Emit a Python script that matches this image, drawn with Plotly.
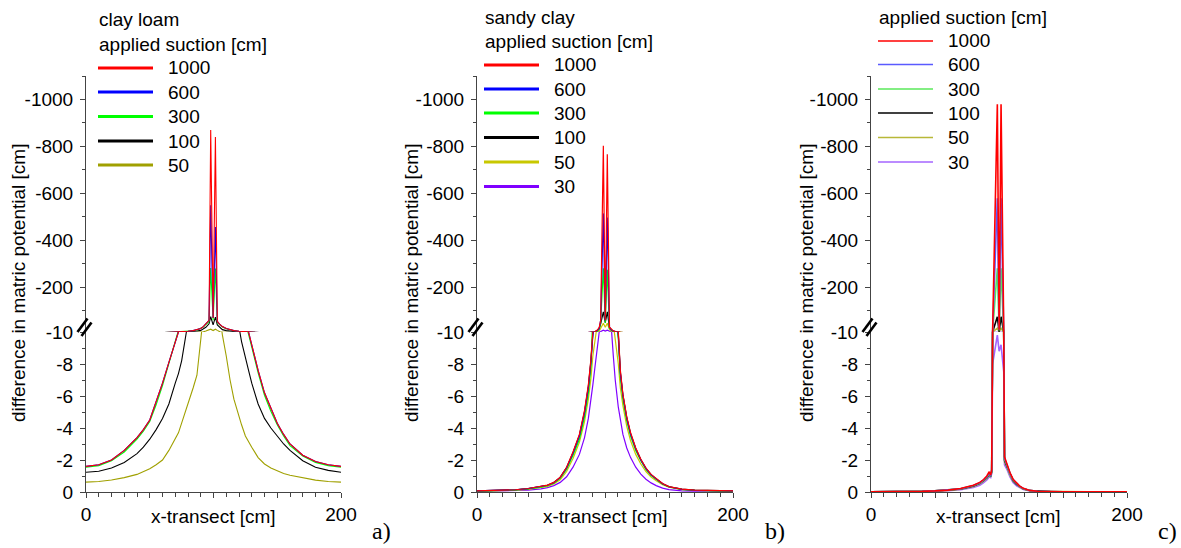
import plotly.graph_objects as go

W, H = 1181, 548


def fx(px):
    return px / W


def fy(py):
    return 1 - py / H


# ---------------- data ----------------
# panel a: clay loam
A_X = [0, 10, 20, 30, 40, 45, 50, 55, 60, 65, 70, 72.5, 75, 78, 80, 84, 87, 90, 92, 94,
       96.5, 97.8, 99.7, 101.5, 103, 105, 107, 110, 113, 116, 120, 122, 125, 127.5, 130,
       135, 140, 145, 150, 155, 160, 170, 180, 190, 200]
A_1000 = [-1.6, -1.7, -2.0, -2.6, -3.4, -3.9, -4.5, -5.6, -6.8, -8.1, -9.4, -10.0, -11, -12.5,
          -13.5, -16, -19, -25, -33, -45, -60, -870, -70, -840, -55, -42, -33, -25, -19, -16,
          -13.5, -12.5, -11, -10.0, -9.2, -7.6, -6.2, -5.2, -4.3, -3.6, -3.0, -2.3, -1.9, -1.7, -1.6]
A_600 = [-1.6, -1.7, -2.0, -2.6, -3.4, -3.9, -4.5, -5.6, -6.8, -8.1, -9.4, -10.0, -11, -12.5,
         -13.5, -16, -19, -25, -33, -45, -60, -550, -70, -457, -55, -42, -33, -25, -19, -16,
         -13.5, -12.5, -11, -10.0, -9.2, -7.6, -6.2, -5.2, -4.3, -3.6, -3.0, -2.3, -1.9, -1.7, -1.6]
A_300 = [-1.55, -1.65, -1.95, -2.5, -3.3, -3.8, -4.4, -5.45, -6.65, -7.95, -9.25, -9.9, -10.8,
         -12.2, -13.2, -15.5, -18.5, -24, -31, -42, -55, -282, -60, -280, -50, -40, -31, -24,
         -18.5, -15.5, -13, -12, -10.6, -9.85, -9.05, -7.45, -6.05, -5.05, -4.2, -3.5, -2.9,
         -2.25, -1.85, -1.65, -1.55]
A_100 = [-1.23, -1.3, -1.5, -1.85, -2.4, -2.8, -3.3, -3.9, -4.6, -5.5, -6.8, -7.4, -8.2, -9.5,
         -10.5, -12, -14, -17, -22, -30, -45, -75, -40, -73, -40, -28, -20, -16, -13.5, -12,
         -10.3, -9.4, -8.3, -7.6, -6.8, -5.5, -4.6, -4.0, -3.5, -3.0, -2.6, -1.95, -1.55, -1.35, -1.23]
A_50 = [-0.62, -0.66, -0.75, -0.9, -1.1, -1.25, -1.45, -1.7, -2.0, -2.6, -3.3, -3.7, -4.3, -5.0,
        -5.5, -6.5, -7.3, -9.3, -11, -14, -18, -22, -16, -22, -17, -11, -9.8, -8.5, -7.0, -5.8,
        -4.7, -4.2, -3.5, -3.1, -2.8, -2.15, -1.75, -1.5, -1.3, -1.15, -1.05, -0.88, -0.74, -0.66, -0.62]

# panel b: sandy clay
B_X = [0, 10, 20, 30, 40, 50, 55, 60, 65, 70, 75, 80, 84, 87, 89, 90.5, 92, 94, 95.5, 96.6,
       98.7, 100.2, 101.8, 103.5, 105, 106.5, 108, 110.4, 112, 114, 117, 120, 124, 128, 132,
       136, 140, 145, 150, 160, 170, 180, 190, 200]
B_1000 = [-0.07, -0.08, -0.1, -0.14, -0.22, -0.33, -0.43, -0.6, -0.92, -1.55, -2.5, -3.6, -5.1,
          -6.7, -8.3, -10, -11, -18, -30, -60, -803, -60, -767, -30, -20, -15, -12, -10, -7.6,
          -6.1, -4.7, -3.7, -2.75, -2.05, -1.5, -1.1, -0.82, -0.53, -0.34, -0.18, -0.12, -0.09,
          -0.08, -0.07]
B_600 = [-0.07, -0.08, -0.1, -0.14, -0.21, -0.32, -0.42, -0.58, -0.9, -1.5, -2.42, -3.5, -4.95,
         -6.5, -8.1, -9.8, -10.6, -16, -25, -60, -515, -60, -498, -30, -19, -14, -11.5, -9.8,
         -7.4, -6.0, -4.6, -3.6, -2.7, -2.0, -1.46, -1.07, -0.8, -0.52, -0.33, -0.17, -0.11,
         -0.09, -0.08, -0.07]
B_300 = [-0.06, -0.07, -0.09, -0.13, -0.2, -0.3, -0.4, -0.55, -0.85, -1.42, -2.3, -3.3, -4.7,
         -6.2, -7.8, -9.4, -10.3, -14, -22, -50, -281, -50, -275, -25, -17, -13, -11, -9.6,
         -7.2, -5.8, -4.45, -3.5, -2.6, -1.95, -1.42, -1.04, -0.78, -0.5, -0.32, -0.16, -0.1,
         -0.08, -0.07, -0.06]
B_100 = [-0.07, -0.08, -0.1, -0.14, -0.21, -0.32, -0.42, -0.59, -0.91, -1.52, -2.46, -3.55, -5.0,
         -6.6, -8.2, -9.9, -10.7, -15, -25, -45, -96, -50, -96, -30, -18, -13.5, -11, -9.9,
         -7.5, -6.05, -4.65, -3.65, -2.72, -2.02, -1.48, -1.08, -0.81, -0.52, -0.33, -0.18,
         -0.12, -0.09, -0.08, -0.07]
B_50 = [-0.05, -0.06, -0.08, -0.11, -0.17, -0.26, -0.35, -0.5, -0.76, -1.28, -2.1, -3.1, -4.4,
        -5.8, -7.1, -8.5, -9.4, -10.5, -14, -25, -47, -30, -47, -20, -13, -10.5, -9.6, -8.0,
        -6.5, -5.4, -4.1, -3.2, -2.35, -1.75, -1.28, -0.94, -0.7, -0.46, -0.3, -0.15, -0.1,
        -0.07, -0.06, -0.05]
B_30 = [-0.04, -0.05, -0.06, -0.08, -0.12, -0.2, -0.27, -0.4, -0.6, -0.95, -1.55, -2.35, -3.4,
        -4.6, -5.7, -6.7, -7.7, -9.0, -10.0, -12, -18, -14, -18, -13, -10.2, -8.5, -7.0, -5.3,
        -4.4, -3.6, -2.75, -2.15, -1.55, -1.12, -0.8, -0.57, -0.4, -0.24, -0.15, -0.07, -0.05,
        -0.04, -0.04, -0.04]

# panel c
C_X = [0, 20, 40, 50, 60, 70, 80, 85, 88, 90.5, 92.4, 93.5, 94.3, 95, 98.7, 100.1, 101.6,
       103.7, 104.3, 106, 108.6, 111, 113.8, 116, 119, 124, 130, 140, 150, 170, 200]
C_1000 = [-0.02, -0.02, -0.04, -0.07, -0.12, -0.22, -0.42, -0.6, -0.78, -1.0, -1.27, -1.05,
          -1.4, -10, -980, -20, -980, -10, -2.2, -1.8, -1.2, -0.8, -0.55, -0.38, -0.23, -0.1,
          -0.05, -0.03, -0.02, -0.02, -0.02]
C_600 = [-0.02, -0.02, -0.04, -0.07, -0.12, -0.2, -0.4, -0.58, -0.76, -0.95, -1.2, -1.0, -1.35,
         -10, -579, -20, -579, -10, -2.1, -1.75, -1.15, -0.78, -0.52, -0.36, -0.22, -0.1, -0.05,
         -0.03, -0.02, -0.02, -0.02]
C_300 = [-0.02, -0.02, -0.04, -0.07, -0.12, -0.2, -0.4, -0.56, -0.74, -0.93, -1.15, -1.0, -1.3,
         -10, -281, -16, -281, -10, -2.05, -1.7, -1.12, -0.75, -0.5, -0.35, -0.21, -0.1, -0.05,
         -0.03, -0.02, -0.02, -0.02]
C_100 = [-0.02, -0.02, -0.04, -0.07, -0.11, -0.19, -0.38, -0.55, -0.72, -0.9, -1.12, -0.98,
         -1.28, -10, -75, -12, -75, -10, -2.0, -1.65, -1.1, -0.72, -0.48, -0.34, -0.2, -0.09,
         -0.05, -0.03, -0.02, -0.02, -0.02]
C_50 = [-0.02, -0.02, -0.03, -0.06, -0.1, -0.18, -0.35, -0.52, -0.68, -0.86, -1.08, -0.95,
        -1.25, -9.5, -26, -10.5, -26, -9.5, -1.9, -1.6, -1.05, -0.68, -0.45, -0.32, -0.19,
        -0.08, -0.04, -0.03, -0.02, -0.02, -0.02]
C_30 = [-0.01, -0.01, -0.02, -0.04, -0.08, -0.14, -0.28, -0.42, -0.58, -0.75, -0.95, -0.9,
        -1.15, -8.0, -9.8, -8.8, -9.2, -7.5, -1.7, -1.45, -0.95, -0.6, -0.38, -0.26, -0.15,
        -0.06, -0.03, -0.02, -0.01, -0.01, -0.01]

SUCTION_A = ["1000", "600", "300", "100", "50"]
SUCTION_BC = ["1000", "600", "300", "100", "50", "30"]

# ---------------- styling / geometry ----------------
FONT = "Liberation Sans"
FS = 19
AXC = "#444444"
Y_BOT, Y_BRK, Y_TOP = 492, 332, 76

panels = [
    dict(x0=86, x1=341, xs=A_X, ys=[A_1000, A_600, A_300, A_100, A_50], names=SUCTION_A,
         colors=["#ff0000", "#0000ff", "#00ff00", "#000000", "#a0a000"], lw=1.1, legw=3,
         titles=["clay loam", "applied suction [cm]"], title_y=[20, 45],
         leg_x0=98, leg_x1=153, leg_tx=166, leg_y=[68, 92, 116.5, 141, 165],
         ytitle_x=18, xtitle_x=213, tag="a)", tag_x=381),
    dict(x0=477, x1=733, xs=B_X, ys=[B_1000, B_600, B_300, B_100, B_50, B_30], names=SUCTION_BC,
         colors=["#ff0000", "#0000ff", "#00ff00", "#000000", "#c8c800", "#8000ff"], lw=1.2, legw=3,
         titles=["sandy clay", "applied suction [cm]"], title_y=[17, 42],
         leg_x0=484, leg_x1=539, leg_tx=552, leg_y=[65, 89, 113, 137.5, 162, 186.5],
         ytitle_x=411, xtitle_x=605, tag="b)", tag_x=775),
    dict(x0=871, x1=1127, xs=C_X, ys=[C_1000, C_600, C_300, C_100, C_50, C_30], names=SUCTION_BC,
         colors=["#ff0000", "#5a5aff", "#5ae85a", "#000000", "#b8b838", "#a464ff"], lw=1.6, legw=1.6,
         titles=["applied suction [cm]"], title_y=[17],
         leg_x0=878, leg_x1=933, leg_tx=946, leg_y=[41, 64.5, 89, 113, 137.5, 162],
         ytitle_x=806, xtitle_x=998, tag="c)", tag_x=1167),
]

fig = go.Figure()
layout = dict(
    template="none",
    width=W, height=H, autosize=False,
    margin=dict(l=0, r=0, t=0, b=0, pad=0, autoexpand=False),
    paper_bgcolor="white", plot_bgcolor="white", showlegend=False,
    font=dict(family=FONT, size=FS, color="black"),
)
annotations = []
shapes = []


def axname(n, letter):
    return letter if n == 1 else f"{letter}{n}"


for i, p in enumerate(panels):
    nl, nu = 2 * i + 1, 2 * i + 2
    xl, yl = axname(nl, "x"), axname(nl, "y")
    xu, yu = axname(nu, "x"), axname(nu, "y")
    dom = [fx(p["x0"]), fx(p["x1"])]

    # draw series in reverse so the first (1000) is on top
    for k in reversed(range(len(p["ys"]))):
        for xa, ya in ((xl, yl), (xu, yu)):
            fig.add_trace(go.Scatter(
                x=p["xs"], y=p["ys"][k], mode="lines", name=p["names"][k],
                line=dict(color=p["colors"][k], width=p["lw"]),
                xaxis=xa, yaxis=ya, showlegend=False, hoverinfo="skip"))

    tickfont = dict(family=FONT, size=FS, color="black")
    layout["xaxis" + ("" if nl == 1 else str(nl))] = dict(
        domain=dom, anchor=yl, range=[0, 200], showline=True, linecolor=AXC, linewidth=1,
        ticks="outside", tickcolor=AXC, ticklen=5, tickwidth=1, automargin=False,
        tickmode="array", tickvals=[0, 50, 100, 150, 200], ticktext=["0", "", "", "", "200"],
        minor=dict(tickmode="array", tickvals=[v for v in range(10, 200, 10) if v % 50],
                   ticks="outside", ticklen=4, tickcolor=AXC, tickwidth=1),
        showgrid=False, zeroline=False, tickfont=tickfont, ticklabelstandoff=0, fixedrange=True)
    layout["xaxis" + str(nu)] = dict(
        domain=dom, anchor=yu, range=[0, 200], visible=False, showgrid=False, zeroline=False,
        automargin=False)
    layout["yaxis" + ("" if nl == 1 else str(nl))] = dict(
        domain=[fy(Y_BOT), fy(Y_BRK)], anchor=xl, range=[0, -10], showline=True,
        linecolor=AXC, linewidth=1, ticks="outside", tickcolor=AXC, ticklen=5, tickwidth=1,
        tickmode="array", tickvals=[0, -2, -4, -6, -8, -10], automargin=False,
        ticktext=["0", "-2", "-4", "-6", "-8", "-10"],
        minor=dict(tickmode="array", tickvals=[-1, -3, -5, -7, -9], ticks="outside",
                   ticklen=3, tickcolor=AXC, tickwidth=1),
        showgrid=False, zeroline=False, tickfont=tickfont, ticklabelstandoff=3)
    layout["yaxis" + str(nu)] = dict(
        domain=[fy(Y_BRK), fy(Y_TOP)], anchor=xu, range=[-10, -1100], showline=True,
        linecolor=AXC, linewidth=1, ticks="outside", tickcolor=AXC, ticklen=5, tickwidth=1,
        tickmode="array", tickvals=[-200, -400, -600, -800, -1000], automargin=False,
        ticktext=["-200", "-400", "-600", "-800", "-1000"],
        minor=dict(tickmode="array", tickvals=[-100, -300, -500, -700, -900, -1100],
                   ticks="outside", ticklen=3, tickcolor=AXC, tickwidth=1),
        showgrid=False, zeroline=False, tickfont=tickfont, ticklabelstandoff=3)

    # axis break marks
    x0 = p["x0"]
    for (ax, ay, bx, by) in ((x0 - 8.5, 332, x0 + 1.5, 318.5), (x0 - 4.5, 336, x0 + 5.5, 322.5)):
        shapes.append(dict(type="line", xref="paper", yref="paper",
                           x0=fx(ax), y0=fy(ay), x1=fx(bx), y1=fy(by),
                           line=dict(color="black", width=2.6)))

    # legend (title lines + entries)
    for t, ty in zip(p["titles"], p["title_y"]):
        annotations.append(dict(text=t, x=fx(p["leg_x0"] - 1), y=fy(ty), xref="paper",
                                yref="paper", xanchor="left", yanchor="middle",
                                showarrow=False, font=dict(family=FONT, size=FS)))
    for k, ly in enumerate(p["leg_y"]):
        shapes.append(dict(type="line", xref="paper", yref="paper",
                           x0=fx(p["leg_x0"]), x1=fx(p["leg_x1"]), y0=fy(ly), y1=fy(ly),
                           line=dict(color=p["colors"][k], width=p["legw"])))
        annotations.append(dict(text=p["names"][k], x=fx(p["leg_tx"]), y=fy(ly), xref="paper",
                                yref="paper", xanchor="left", yanchor="middle",
                                showarrow=False, font=dict(family=FONT, size=FS)))

    # axis titles
    annotations.append(dict(text="difference in matric potential [cm]", x=fx(p["ytitle_x"]),
                            y=fy(283), xref="paper", yref="paper", xanchor="center",
                            yanchor="middle", textangle=-90, showarrow=False,
                            font=dict(family=FONT, size=FS)))
    annotations.append(dict(text="x-transect [cm]", x=fx(p["xtitle_x"]), y=fy(516),
                            xref="paper", yref="paper", xanchor="center", yanchor="middle",
                            showarrow=False, font=dict(family=FONT, size=FS)))
    annotations.append(dict(text=p["tag"], x=fx(p["tag_x"]), y=fy(531), xref="paper",
                            yref="paper", xanchor="center", yanchor="middle", showarrow=False,
                            font=dict(family="Liberation Serif", size=24, color="black")))

layout["annotations"] = annotations
layout["shapes"] = shapes
fig.update_layout(**layout)
fig.write_html("out.html", config={"displayModeBar": False, "staticPlot": True},
               post_script="document.body.style.margin='0';document.body.style.overflow='hidden';")
